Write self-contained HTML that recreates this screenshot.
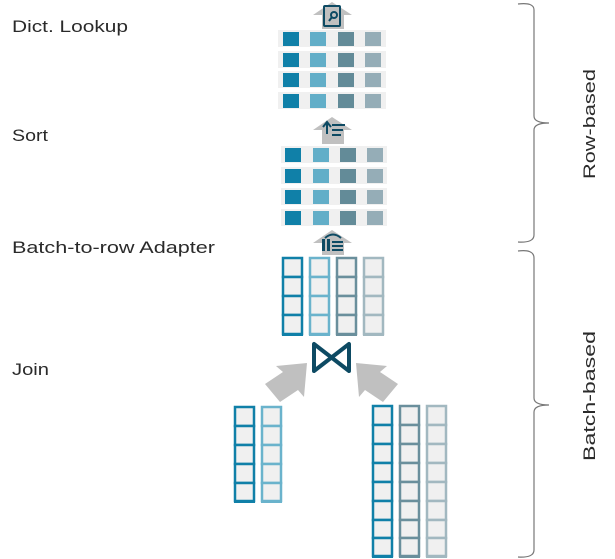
<!DOCTYPE html>
<html><head><meta charset="utf-8"><style>
html,body{margin:0;padding:0;background:#fff;width:615px;height:559px;overflow:hidden}
text{font-family:"Liberation Sans",sans-serif;fill:#2a2a2a;font-size:17px}
</style></head><body>
<svg width="615" height="559" viewBox="0 0 615 559" xmlns="http://www.w3.org/2000/svg">
<text x="12" y="32" textLength="116" lengthAdjust="spacingAndGlyphs">Dict. Lookup</text>
<text x="12" y="141" textLength="36" lengthAdjust="spacingAndGlyphs">Sort</text>
<text x="12" y="253" textLength="203" lengthAdjust="spacingAndGlyphs">Batch-to-row Adapter</text>
<text x="12" y="375" textLength="37" lengthAdjust="spacingAndGlyphs">Join</text>

<g fill="#c0c0c0">
<polygon points="332,2 352,15 344,15 344,29 322,29 322,15 313,15"/>
<polygon points="332,117 352,130 344,130 344,144 322,144 322,130 313,130"/>
<polygon points="332,230 352,243 344,243 344,255 322,255 322,243 313,243"/>
</g>
<g fill="none" stroke="#0d4a63" stroke-width="2">
<rect x="324" y="6" width="16" height="20" rx="1"/>
<circle cx="334" cy="15" r="3"/><line x1="332" y1="17" x2="329" y2="21"/>
<line x1="327" y1="134" x2="327" y2="123"/><polyline points="323,127 327,122 331,127"/>
<line x1="332" y1="125" x2="345" y2="125"/><line x1="332" y1="130" x2="343" y2="130"/><line x1="332" y1="135" x2="341" y2="135"/>
<path d="M325,238 q8,-7 16,0"/>
</g>
<g fill="#0d4a63">
<rect x="322" y="239" width="3" height="12"/><rect x="327" y="239" width="3" height="12"/>
<rect x="332" y="241" width="11" height="2"/><rect x="332" y="245" width="11" height="2"/><rect x="332" y="249" width="11" height="2"/>
</g>

<g>
<rect x="278" y="30" width="108" height="17" fill="#f0f0f0"/>
<rect x="278" y="51" width="108" height="17" fill="#f0f0f0"/>
<rect x="278" y="71" width="108" height="17" fill="#f0f0f0"/>
<rect x="278" y="92" width="108" height="17" fill="#f0f0f0"/>
</g>
<g>
<rect x="283" y="32" width="16" height="14" fill="#1080a8"/><rect x="310" y="32" width="16" height="14" fill="#62aec8"/><rect x="338" y="32" width="16" height="14" fill="#638b98"/><rect x="365" y="32" width="16" height="14" fill="#95adb7"/>
<rect x="283" y="53" width="16" height="14" fill="#1080a8"/><rect x="310" y="53" width="16" height="14" fill="#62aec8"/><rect x="338" y="53" width="16" height="14" fill="#638b98"/><rect x="365" y="53" width="16" height="14" fill="#95adb7"/>
<rect x="283" y="73" width="16" height="14" fill="#1080a8"/><rect x="310" y="73" width="16" height="14" fill="#62aec8"/><rect x="338" y="73" width="16" height="14" fill="#638b98"/><rect x="365" y="73" width="16" height="14" fill="#95adb7"/>
<rect x="283" y="94" width="16" height="14" fill="#1080a8"/><rect x="310" y="94" width="16" height="14" fill="#62aec8"/><rect x="338" y="94" width="16" height="14" fill="#638b98"/><rect x="365" y="94" width="16" height="14" fill="#95adb7"/>
</g>
<g>
<rect x="281" y="146" width="106" height="17" fill="#f0f0f0"/>
<rect x="281" y="167" width="106" height="17" fill="#f0f0f0"/>
<rect x="281" y="188" width="106" height="17" fill="#f0f0f0"/>
<rect x="281" y="209" width="106" height="17" fill="#f0f0f0"/>
</g>
<g>
<rect x="285" y="148" width="16" height="14" fill="#1080a8"/><rect x="313" y="148" width="16" height="14" fill="#62aec8"/><rect x="340" y="148" width="16" height="14" fill="#638b98"/><rect x="367" y="148" width="16" height="14" fill="#95adb7"/>
<rect x="285" y="169" width="16" height="14" fill="#1080a8"/><rect x="313" y="169" width="16" height="14" fill="#62aec8"/><rect x="340" y="169" width="16" height="14" fill="#638b98"/><rect x="367" y="169" width="16" height="14" fill="#95adb7"/>
<rect x="285" y="190" width="16" height="14" fill="#1080a8"/><rect x="313" y="190" width="16" height="14" fill="#62aec8"/><rect x="340" y="190" width="16" height="14" fill="#638b98"/><rect x="367" y="190" width="16" height="14" fill="#95adb7"/>
<rect x="285" y="211" width="16" height="14" fill="#1080a8"/><rect x="313" y="211" width="16" height="14" fill="#62aec8"/><rect x="340" y="211" width="16" height="14" fill="#638b98"/><rect x="367" y="211" width="16" height="14" fill="#95adb7"/>
</g>

<g fill="#f0f0f0" stroke-width="2.5">
<g stroke="#1080a8"><rect x="283" y="258" width="19" height="19"/><rect x="283" y="277" width="19" height="19"/><rect x="283" y="296" width="19" height="19"/><rect x="283" y="315" width="19" height="19"/></g>
<g stroke="#6ab3cc"><rect x="310" y="258" width="19" height="19"/><rect x="310" y="277" width="19" height="19"/><rect x="310" y="296" width="19" height="19"/><rect x="310" y="315" width="19" height="19"/></g>
<g stroke="#6a8f9c"><rect x="337" y="258" width="19" height="19"/><rect x="337" y="277" width="19" height="19"/><rect x="337" y="296" width="19" height="19"/><rect x="337" y="315" width="19" height="19"/></g>
<g stroke="#a2b8c0"><rect x="364" y="258" width="19" height="19"/><rect x="364" y="277" width="19" height="19"/><rect x="364" y="296" width="19" height="19"/><rect x="364" y="315" width="19" height="19"/></g>

<g stroke="#1080a8"><rect x="235" y="407" width="19" height="19"/><rect x="235" y="426" width="19" height="19"/><rect x="235" y="445" width="19" height="19"/><rect x="235" y="464" width="19" height="19"/><rect x="235" y="483" width="19" height="18"/></g>
<g stroke="#6ab3cc"><rect x="262" y="407" width="19" height="19"/><rect x="262" y="426" width="19" height="19"/><rect x="262" y="445" width="19" height="19"/><rect x="262" y="464" width="19" height="19"/><rect x="262" y="483" width="19" height="18"/></g>

<g stroke="#1080a8"><rect x="373" y="406" width="19" height="19"/><rect x="373" y="425" width="19" height="19"/><rect x="373" y="444" width="19" height="19"/><rect x="373" y="463" width="19" height="19"/><rect x="373" y="482" width="19" height="19"/><rect x="373" y="501" width="19" height="19"/><rect x="373" y="520" width="19" height="18"/><rect x="373" y="538" width="19" height="18"/></g>
<g stroke="#6a8f9c"><rect x="400" y="406" width="19" height="19"/><rect x="400" y="425" width="19" height="19"/><rect x="400" y="444" width="19" height="19"/><rect x="400" y="463" width="19" height="19"/><rect x="400" y="482" width="19" height="19"/><rect x="400" y="501" width="19" height="19"/><rect x="400" y="520" width="19" height="18"/><rect x="400" y="538" width="19" height="18"/></g>
<g stroke="#a2b8c0"><rect x="427" y="406" width="19" height="19"/><rect x="427" y="425" width="19" height="19"/><rect x="427" y="444" width="19" height="19"/><rect x="427" y="463" width="19" height="19"/><rect x="427" y="482" width="19" height="19"/><rect x="427" y="501" width="19" height="19"/><rect x="427" y="520" width="19" height="18"/><rect x="427" y="538" width="19" height="18"/></g>
</g>
<g>
<rect x="282" y="333" width="21" height="3" fill="#1080a8"/><rect x="309" y="333" width="21" height="3" fill="#6ab3cc"/><rect x="336" y="333" width="21" height="3" fill="#6a8f9c"/><rect x="363" y="333" width="21" height="3" fill="#a2b8c0"/>
<rect x="234" y="500" width="21" height="3" fill="#1080a8"/><rect x="261" y="500" width="21" height="3" fill="#6ab3cc"/>
<rect x="372" y="555" width="21" height="3" fill="#1080a8"/><rect x="399" y="555" width="21" height="3" fill="#6a8f9c"/><rect x="426" y="555" width="21" height="3" fill="#a2b8c0"/>
</g>

<path d="M314,344 L314,371 L349,344 L349,371 Z" fill="none" stroke="#0d4a63" stroke-width="4" stroke-linejoin="round"/>

<g fill="#c0c0c0">
<polygon points="307,363 304,397 298,390 280,402 265,384 283,372 276,366"/>
<polygon points="356,363 359,397 365,390 383,402 398,384 380,372 387,366"/>
</g>

<g fill="none" stroke="#777" stroke-width="1.2">
<path d="M518,4 Q534,2 534,10 L534,116 Q534,123 549,123 Q534,123 534,130 L534,235 Q534,243 518,242"/>
<path d="M518,251 Q534,249 534,258 L534,398 Q534,405 549,405 Q534,405 534,412 L534,550 Q534,558 518,557"/>
</g>
<text transform="translate(595,124) rotate(-90)" text-anchor="middle" textLength="110" lengthAdjust="spacingAndGlyphs">Row-based</text>
<text transform="translate(595,396) rotate(-90)" text-anchor="middle" textLength="130" lengthAdjust="spacingAndGlyphs">Batch-based</text>
</svg>
</body></html>
